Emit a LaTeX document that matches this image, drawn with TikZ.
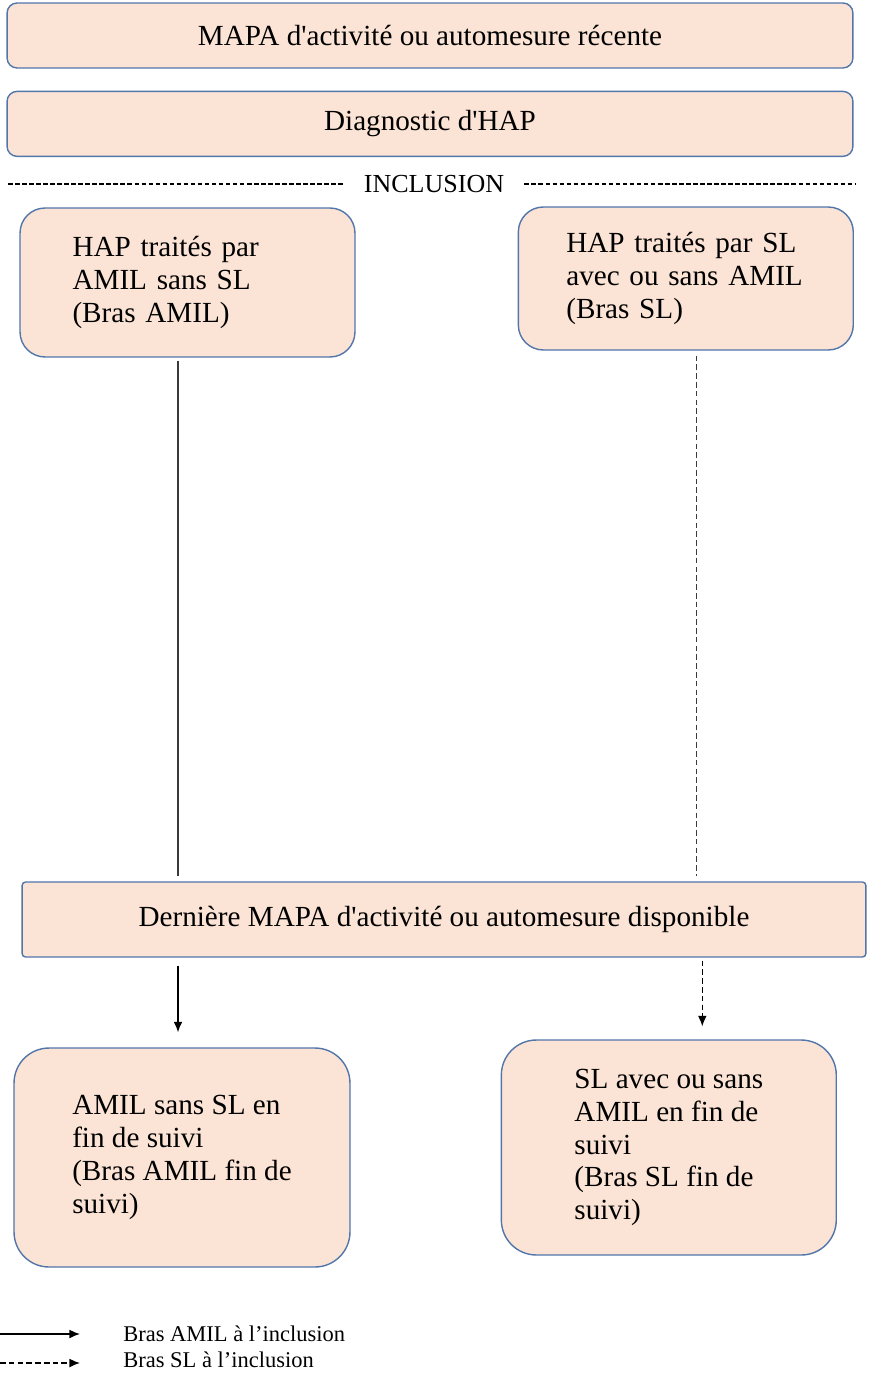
\documentclass[tikz,border=0pt]{standalone}
\usepackage{fontspec}
\setmainfont{Liberation Serif}
\usepackage{xcolor}
\usetikzlibrary{positioning,arrows.meta}
\definecolor{peach}{HTML}{FBE4D5}
\definecolor{boxline}{HTML}{5275AA}
\definecolor{lead}{HTML}{3A3A3A}

\begin{document}
\begin{tikzpicture} [ x=0.02cm,y=-0.02cm,>={Latex[length=6pt,width=5pt]},
    every node/.style={inner sep=0pt, font=\fontsize{16.6}{18.7}\selectfont},
    wide/.style={rectangle, draw=boxline, fill=peach, line width=0.8pt,
      rounded corners=0.2cm, minimum width=16.92cm, minimum height=1.3cm},
    arm/.style={rectangle, draw=boxline, fill=peach, line width=0.8pt,
      rounded corners=0.5cm, minimum width=6.7cm, align=left},
    con/.style={->, line width=0.7pt},
    dcon/.style={->, line width=0.7pt, dash pattern=on 3.2pt off 1.8pt},
    lead line/.style={draw=lead, line width=0.7pt},
    note/.style={font=\fontsize{12.8}{15}\selectfont, anchor=west}
    ]
    \useasboundingbox (0,0) rectangle (868,1381);
    \node (n1) [wide] at (430,35.5) {MAPA d\textquotesingle activité ou automesure récente};
    \node (n2) [wide, below=0.44cm of n1] {Diagnostic d\textquotesingle HAP};
    \node (inc) [inner xsep=0.4cm, font=\fontsize{14.8}{16}\selectfont] at (434,184) {INCLUSION};
    \coordinate (incl) at (8,184);
    \coordinate (incr) at (855,184);
    \draw [dash pattern=on 2.6pt off 1.4pt, line width=0.7pt] (incl) -- (inc);
    \draw [dash pattern=on 2.6pt off 1.4pt, line width=0.7pt] (inc) -- (incr);

    \node (n3) [arm, minimum height=2.98cm, text width=4.6cm] at (187.5,282.5)
      {HAP traités par\\AMIL sans SL\\(Bras AMIL)};
    \node (n4) [arm, minimum height=2.86cm, text width=4.78cm, right=3.24cm of n3, yshift=0.08cm]
      {HAP traités par SL\\avec ou sans AMIL\\(Bras SL)};
    \node (n5) [rectangle, draw=boxline, fill=peach, line width=0.8pt, rounded corners=2pt,
      minimum width=16.88cm, minimum height=1.5cm] at (444,919.5)
      {Dernière MAPA d\textquotesingle activité ou automesure disponible};
    \node (n6) [arm, rounded corners=0.7cm, minimum width=6.72cm, minimum height=4.38cm] at (182,1157.5)
      {AMIL sans SL en\\fin de suivi\\(Bras AMIL fin de\\suivi)};
    \node (n7) [arm, rounded corners=0.7cm, minimum height=4.3cm, right=3cm of n6, yshift=0.2cm]
      {SL avec ou sans\\AMIL en fin de\\suivi\\(Bras SL fin de\\suivi)};

    \draw [lead line, shorten <=0.06cm, shorten >=0.1cm] ([xshift=-0.19cm]n3.south) -- ([xshift=-0.19cm]n3.south |- n5.north);
    \draw [lead line, dash pattern=on 3.2pt off 1.8pt, shorten <=0.1cm, shorten >=0.1cm] ([xshift=0.21cm]n4.south) -- ([xshift=0.21cm]n4.south |- n5.north);
    \draw [con, shorten <=0.16cm, shorten >=0.3cm] ([xshift=-0.08cm]n6.north |- n5.south) -- ([xshift=-0.08cm]n6.north);
    \draw [dcon, shorten <=0.06cm, shorten >=0.26cm] ([xshift=0.67cm]n7.north |- n5.south) -- ([xshift=0.67cm]n7.north);

    \coordinate (l1a) at (0,1334);
    \coordinate (l1b) at (80,1334);
    \coordinate (l2a) at (0,1363);
    \coordinate (l2b) at (80,1363);
    \draw [con] (l1a) -- (l1b);
    \draw [dcon] (l2a) -- (l2b);
    \node (l1) [note] at (123,1334) {Bras AMIL à l’inclusion};
    \node (l2) [note] at (123,1360) {Bras SL à l’inclusion};
  \end{tikzpicture}
\end{document}
